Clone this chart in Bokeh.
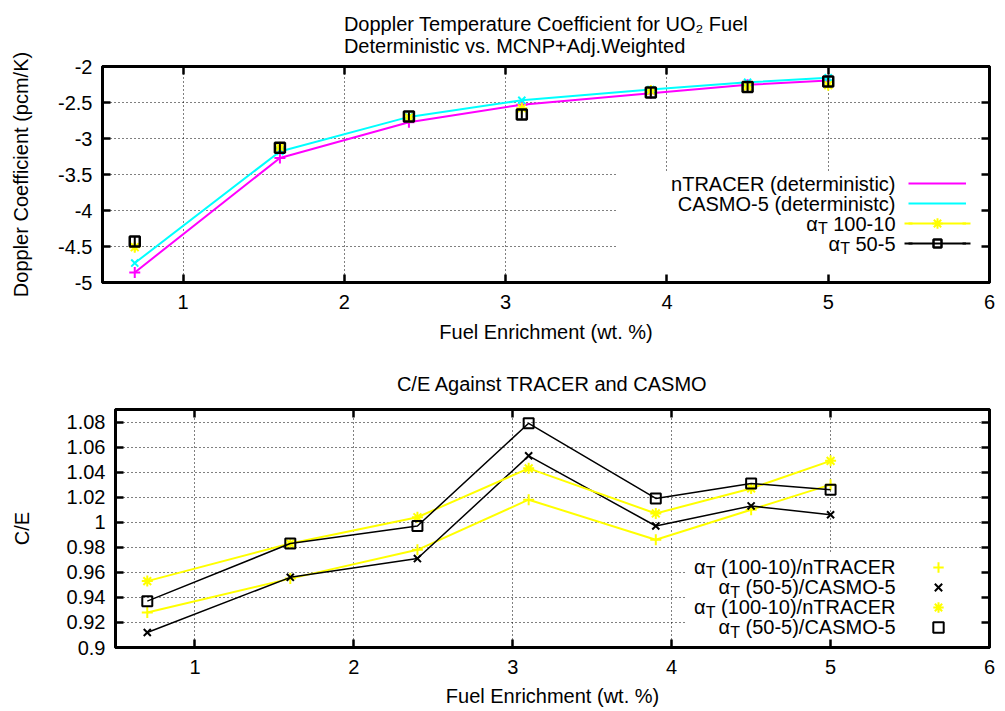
import math
import numpy as np
from bokeh.plotting import figure
from bokeh.models import (ColumnDataSource, FixedTicker, CustomJSTickFormatter, LinearAxis,
                          Label, Legend, LegendItem, BoxAnnotation, Range1d, Title)
from bokeh.embed import file_html
from bokeh.resources import INLINE

# ---------------- data ----------------
enrichment = [0.7, 1.6, 2.4, 3.1, 3.9, 4.5, 5.0]

ntracer_dtc = [-4.86, -3.27, -2.775, -2.53, -2.37, -2.255, -2.195]
casmo_dtc = [-4.73, -3.18, -2.70, -2.47, -2.32, -2.22, -2.155]
alpha_100_10 = [-4.51, -3.12, -2.71, -2.58, -2.335, -2.28, -2.26]
alpha_50_5 = [-4.43, -3.13, -2.695, -2.665, -2.36, -2.285, -2.21]
err_100_10 = [0.06, 0.06, 0.06, 0.06, 0.06, 0.06, 0.06]
err_50_5 = [0.07, 0.06, 0.06, 0.06, 0.06, 0.06, 0.06]

ce_100_10_ntracer = [0.928, 0.955, 0.978, 1.018, 0.986, 1.010, 1.030]
ce_50_5_x = [0.912, 0.956, 0.971, 1.053, 0.997, 1.013, 1.006]
ce_100_10_casmo = [0.953, 0.983, 1.004, 1.043, 1.007, 1.027, 1.049]
ce_50_5_sq = [0.937, 0.983, 0.997, 1.079, 1.019, 1.031, 1.026]

x_ticks = [1, 2, 3, 4, 5, 6]
y_ticks_top = [-5, -4.5, -4, -3.5, -3, -2.5, -2]
y_ticks_bottom = [0.9, 0.92, 0.94, 0.96, 0.98, 1.0, 1.02, 1.04, 1.06, 1.08]

top_title = "Doppler Temperature Coefficient for UO\u2082 Fuel\nDeterministic vs. MCNP+Adj.Weighted"
bottom_title = "C/E Against TRACER and CASMO"
x_label = "Fuel Enrichment (wt. %)"
top_y_label = "Doppler Coefficient (pcm/K)"
bottom_y_label = "C/E"

top_legend = [
    [("nTRACER (deterministic)", 0)],
    [("CASMO-5 (deterministc)", 0)],
    [("\u03b1", 0), ("T", 1), (" 100-10", 0)],
    [("\u03b1", 0), ("T", 1), (" 50-5", 0)],
]
bottom_legend = [
    [("\u03b1", 0), ("T", 1), (" (100-10)/nTRACER", 0)],
    [("\u03b1", 0), ("T", 1), (" (50-5)/CASMO-5", 0)],
    [("\u03b1", 0), ("T", 1), (" (100-10)/nTRACER", 0)],
    [("\u03b1", 0), ("T", 1), (" (50-5)/CASMO-5", 0)],
]

# ---------------- style ----------------
FONT = "Liberation Sans"
FS = 20
SUB_FS = 16
SUB_DY = -5
MAGENTA = "#ff00ff"
CYAN = "#00ffff"
YELLOW = "#ffff00"
NAN = [float("nan")]
FIG_W = 1001

ARIAL = {' ': 278, '(': 333, ')': 333, '+': 584, '-': 333, '.': 278, '/': 278, '%': 889,
         'A': 667, 'C': 722, 'D': 722, 'E': 667, 'F': 611, 'K': 667, 'M': 833, 'N': 722,
         'O': 778, 'P': 667, 'R': 722, 'S': 667, 'T': 611, 'U': 722, 'W': 944,
         'a': 556, 'c': 500, 'd': 556, 'e': 556, 'f': 278, 'g': 556, 'h': 556, 'i': 222,
         'j': 222, 'l': 222, 'm': 833, 'n': 556, 'o': 556, 'p': 556, 'r': 333, 's': 500,
         't': 278, 'u': 556, 'v': 500, 'w': 722, '\u03b1': 578}


def text_w(s, px):
    return sum(ARIAL.get(c, 556) for c in s) * px / 1000.0


def add_rich(p, x, y, parts, align):
    sizes = [SUB_FS if sub else FS for _, sub in parts]
    total = sum(text_w(t, s) for (t, _), s in zip(parts, sizes))
    cur = x - total if align == "right" else (x - total / 2.0 if align == "center" else x)
    for (t, sub), s in zip(parts, sizes):
        stripped = t.lstrip(" ")
        cur += text_w(t[:len(t) - len(stripped)], s)
        p.add_layout(Label(x=cur, y=y + (SUB_DY if sub else 0), x_units="screen", y_units="screen",
                           text=stripped, text_font=FONT, text_font_size=f"{s}px",
                           text_align="left", text_baseline="middle", text_color="black"))
        cur += text_w(stripped, s)


fmt_code = "return (Math.round(tick*1000)/1000).toString();"


def style_axis(ax, ticks, standoff, label_standoff):
    ax.ticker = FixedTicker(ticks=ticks)
    ax.formatter = CustomJSTickFormatter(code=fmt_code)
    ax.axis_line_color = "black"
    ax.axis_line_width = 3
    ax.major_tick_in = 8
    ax.major_tick_out = 0
    ax.major_tick_line_width = 2.5
    ax.major_tick_line_color = "black"
    ax.minor_tick_line_color = None
    ax.major_label_text_font = FONT
    ax.major_label_text_font_size = f"{FS}px"
    ax.major_label_text_color = "black"
    ax.major_label_text_line_height = 1.0
    ax.major_label_standoff = standoff
    ax.axis_label_text_font = FONT
    ax.axis_label_text_font_size = f"{FS}px"
    ax.axis_label_text_font_style = "normal"
    ax.axis_label_text_color = "black"
    ax.axis_label_text_line_height = 1.0
    ax.axis_label_standoff = label_standoff


def mirror_axis(p, side, ticks):
    ax = LinearAxis(ticker=FixedTicker(ticks=ticks), formatter=CustomJSTickFormatter(code="return '';"),
                    major_tick_in=8, major_tick_out=0, major_tick_line_width=2.5,
                    major_tick_line_color="black", minor_tick_line_color=None,
                    axis_line_color="black", axis_line_width=3, major_label_standoff=0,
                    major_label_text_font_size="1px")
    p.add_layout(ax, side)


def add_title(p, text, standoff):
    p.add_layout(Title(text=text, align="center", text_font=FONT, text_font_size=f"{FS}px",
                       text_font_style="normal", text_color="black", text_line_height=1.0,
                       standoff=standoff), "above")


def base_fig(h, frame_l, frame_t, frame_b, yr, yticks, ylab, ylab_standoff, xstand, xlab_stand):
    p = figure(width=FIG_W, height=h, x_range=Range1d(0.5, 6), y_range=Range1d(*yr),
               output_backend="svg", toolbar_location=None,
               min_border_left=frame_l, min_border_right=FIG_W - F_RIGHT,
               min_border_top=frame_t, min_border_bottom=h - frame_b)
    p.outline_line_color = "black"
    p.outline_line_width = 3
    p.outline_line_alpha = 1
    p.background_fill_color = "white"
    p.border_fill_color = "white"
    p.xgrid.ticker = FixedTicker(ticks=x_ticks)
    p.ygrid.ticker = FixedTicker(ticks=yticks)
    for g in (p.xgrid, p.ygrid):
        g.grid_line_color = "black"
        g.grid_line_width = 1
        g.grid_line_dash = "1 3"
        g.grid_line_alpha = 1
    xa = p.below[0]
    ya = p.left[0]
    style_axis(xa, x_ticks, xstand, xlab_stand)
    style_axis(ya, yticks, 10, ylab_standoff)
    xa.axis_label = x_label
    ya.axis_label = ylab
    mirror_axis(p, "above", x_ticks)
    mirror_axis(p, "right", yticks)
    return p


def legend_loc(frame_left, frame_bottom, glyph_left, first_center, n, gh):
    top_edge = first_center - gh / 2.0
    return (glyph_left - frame_left, frame_bottom - (top_edge + n * gh))


def make_legend(items, loc, gw, gh):
    return Legend(items=[LegendItem(label=" ", renderers=r) for r in items], location=loc,
                  glyph_width=gw, glyph_height=gh, spacing=0, padding=0, margin=0,
                  label_width=0, label_height=0, label_standoff=0, label_text_font_size="1px",
                  background_fill_alpha=0, border_line_color=None)


# page coordinates of the plot frames (page origin at top-left)
F_RIGHT = 989
T_LEFT, T_TOP, T_BOTTOM, T_H = 102, 65, 282, 350
B_LEFT, B_TOP, B_BOTTOM, B_H = 115, 409, 647, 360

# ---------------- top figure ----------------
top = base_fig(T_H, T_LEFT, T_TOP, T_BOTTOM, (-5, -2), y_ticks_top, top_y_label, 23, 12, 9)
add_title(top, top_title, 20)

top.add_layout(BoxAnnotation(left=617 - T_LEFT, right=F_RIGHT - T_LEFT, bottom=0, top=T_BOTTOM - 172,
                             left_units="screen", right_units="screen", top_units="screen",
                             bottom_units="screen", fill_color="white", fill_alpha=1,
                             line_color=None, level="underlay"))

a100 = np.array(alpha_100_10)
a50 = np.array(alpha_50_5)
src_top = ColumnDataSource(dict(
    x=enrichment, ntracer=ntracer_dtc, casmo=casmo_dtc, a100=alpha_100_10, a50=alpha_50_5,
    a100_lo=a100 - np.array(err_100_10), a100_hi=a100 + np.array(err_100_10),
    a50_lo=a50 - np.array(err_50_5), a50_hi=a50 + np.array(err_50_5)))

r_nt = top.line("x", "ntracer", source=src_top, line_color=MAGENTA, line_width=2)
top.scatter("x", "ntracer", source=src_top, marker="cross", size=11, line_color=MAGENTA, line_width=2)
r_cs = top.line("x", "casmo", source=src_top, line_color=CYAN, line_width=2)
top.scatter("x", "casmo", source=src_top, marker="x", size=10, line_color=CYAN, line_width=2)
top.segment(x0="x", y0="a100_lo", x1="x", y1="a100_hi", source=src_top, line_color=YELLOW, line_width=2)
r_a100 = top.scatter("x", "a100", source=src_top, marker="asterisk", size=11, line_color=YELLOW, line_width=2)
top.segment(x0="x", y0="a50_lo", x1="x", y1="a50_hi", source=src_top, line_color="black", line_width=2)
r_a50 = top.scatter("x", "a50", source=src_top, marker="square", size=10, line_color="black",
                    fill_color=None, line_width=2.5)

# legend-only proxies (no plotted data)
r_yl = top.line(x=NAN, y=NAN, line_color=YELLOW, line_width=2)
r_kl = top.line(x=NAN, y=NAN, line_color="black", line_width=2)
r_ys = top.scatter(x=NAN, y=NAN, marker="asterisk", line_color=YELLOW, line_width=2)
r_yc = top.scatter(x=NAN, y=NAN, marker="dash", angle=math.pi / 2, line_color=YELLOW, line_width=2)
r_kc = top.scatter(x=NAN, y=NAN, marker="dash", angle=math.pi / 2, line_color="black", line_width=2)

rows_top = [183.3, 203.3, 223.3, 243.3]
GL0, GL1 = 908, 966
top.add_layout(make_legend([[r_nt], [r_cs], [r_yl], [r_kl, r_a50]],
                           legend_loc(T_LEFT, T_BOTTOM, GL0, rows_top[0], 4, 20), GL1 - GL0, 20))
top.add_layout(make_legend([[r_ys]],
                           legend_loc(T_LEFT, T_BOTTOM, (GL0 + GL1) / 2 - 13, rows_top[2], 1, 26), 26, 26))
top.add_layout(make_legend([[r_yc], [r_kc]],
                           legend_loc(T_LEFT, T_BOTTOM, GL0 - 10, rows_top[2], 2, 20), 20, 20))
top.add_layout(make_legend([[r_yc], [r_kc]],
                           legend_loc(T_LEFT, T_BOTTOM, GL1 - 10, rows_top[2], 2, 20), 20, 20))

for parts, c in zip(top_legend, rows_top):
    add_rich(top, 895 - T_LEFT, T_BOTTOM - c, parts, "right")

# ---------------- bottom figure ----------------
bot = base_fig(B_H, B_LEFT, B_TOP - T_H, B_BOTTOM - T_H, (0.9, 1.09), y_ticks_bottom,
               bottom_y_label, 31, 12, 8)
add_title(bot, bottom_title, 30)

bot.add_layout(BoxAnnotation(left=686 - B_LEFT, right=F_RIGHT - B_LEFT, bottom=0, top=B_BOTTOM - 553,
                             left_units="screen", right_units="screen", top_units="screen",
                             bottom_units="screen", fill_color="white", fill_alpha=1,
                             line_color=None, level="underlay"))

src_bot = ColumnDataSource(dict(x=enrichment, c1=ce_100_10_ntracer, c2=ce_50_5_x,
                                c3=ce_100_10_casmo, c4=ce_50_5_sq))
bot.line("x", "c1", source=src_bot, line_color=YELLOW, line_width=2)
m1 = bot.scatter("x", "c1", source=src_bot, marker="cross", size=11, line_color=YELLOW, line_width=2)
bot.line("x", "c2", source=src_bot, line_color="black", line_width=1.5)
m2 = bot.scatter("x", "c2", source=src_bot, marker="x", size=10, line_color="black", line_width=2)
bot.line("x", "c3", source=src_bot, line_color=YELLOW, line_width=2)
m3 = bot.scatter("x", "c3", source=src_bot, marker="asterisk", size=11, line_color=YELLOW, line_width=2)
bot.line("x", "c4", source=src_bot, line_color="black", line_width=1.5)
m4 = bot.scatter("x", "c4", source=src_bot, marker="square", size=10, line_color="black",
                 fill_color=None, line_width=2)

rows_bot = [566.5, 586.5, 606.5, 626.5]
for m, c in zip([m1, m2, m3, m4], rows_bot):
    bot.add_layout(make_legend([[m]], legend_loc(B_LEFT, B_BOTTOM, 937.5 - 13, c, 1, 26), 26, 26))
for parts, c in zip(bottom_legend, rows_bot):
    add_rich(bot, 895 - B_LEFT, B_BOTTOM - c, parts, "right")

# two independent roots stacked on the page, so each frame keeps its own left border
open("out.html", "w").write(file_html([top, bot], INLINE))
